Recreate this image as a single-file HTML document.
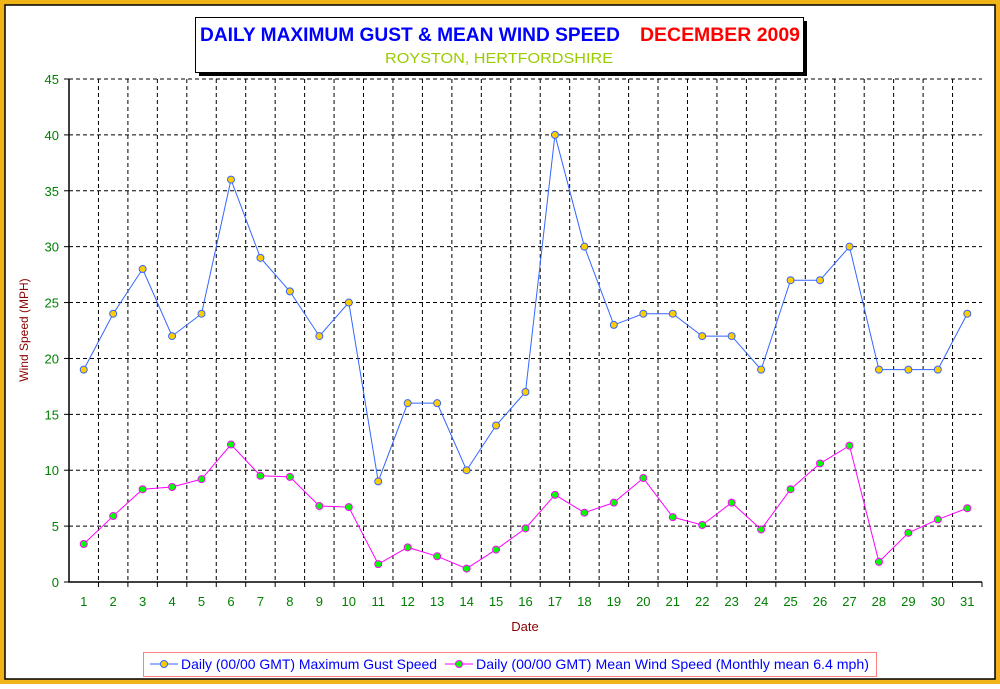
<!DOCTYPE html>
<html><head><meta charset="utf-8"><style>
body{margin:0;background:#fff;}
svg text{font-family:"Liberation Sans",sans-serif;}
</style></head><body>
<svg width="1000" height="684" xmlns="http://www.w3.org/2000/svg">
<rect x="0" y="0" width="1000" height="684" fill="#F0B418"/>
<rect x="5" y="5" width="990" height="674" fill="#fff" stroke="#000" stroke-width="1.5"/>
<rect x="199" y="21" width="608" height="55" fill="#000"/>
<rect x="195.5" y="17.5" width="608" height="55" fill="#fff" stroke="#000"/>
<text x="200" y="41" font-size="19" font-weight="bold" fill="#0000FF" textLength="420" lengthAdjust="spacingAndGlyphs">DAILY MAXIMUM GUST &amp; MEAN WIND SPEED</text>
<text x="640" y="41" font-size="19" font-weight="bold" fill="#FF0000" textLength="160" lengthAdjust="spacingAndGlyphs">DECEMBER 2009</text>
<text x="385" y="63" font-size="15" fill="#99CC00" textLength="228" lengthAdjust="spacingAndGlyphs">ROYSTON, HERTFORDSHIRE</text>
<g id="grid"></g>
<g id="axes"></g>
<g id="series"></g>
<text x="28" y="330" font-size="12" fill="#8B0000" text-anchor="middle" transform="rotate(-90 28 330)">Wind Speed (MPH)</text>
<text x="525" y="631" font-size="13" fill="#8B0000" text-anchor="middle">Date</text>
<g>
<rect x="143.5" y="652.5" width="733" height="24" fill="#fff" stroke="#FF8080"/>
<line x1="150" y1="664" x2="178" y2="664" stroke="#3366FF"/>
<circle cx="164" cy="664" r="3.5" fill="#FFCC00" stroke="#3366FF"/>
<text x="181" y="669" font-size="14" fill="#0000FF" textLength="256" lengthAdjust="spacingAndGlyphs">Daily (00/00 GMT) Maximum Gust Speed</text>
<line x1="445" y1="664" x2="473" y2="664" stroke="#FF00FF"/>
<circle cx="459" cy="664" r="3.5" fill="#00FF00" stroke="#FF00FF"/>
<text x="476" y="669" font-size="14" fill="#0000FF" textLength="393" lengthAdjust="spacingAndGlyphs">Daily (00/00 GMT) Mean Wind Speed (Monthly mean 6.4 mph)</text>
</g>
</svg>
<script>
const days=[1,2,3,4,5,6,7,8,9,10,11,12,13,14,15,16,17,18,19,20,21,22,23,24,25,26,27,28,29,30,31];
const gust=[19,24,28,22,24,36,29,26,22,25,9,16,16,10,14,17,40,30,23,24,24,22,22,19,27,27,30,19,19,19,24];
const mean=[3.4,5.9,8.3,8.5,9.2,12.3,9.5,9.4,6.8,6.7,1.6,3.1,2.3,1.2,2.9,4.8,7.8,6.2,7.1,9.3,5.8,5.1,7.1,4.7,8.3,10.6,12.2,1.8,4.4,5.6,6.6];
const yTicks=[0,5,10,15,20,25,30,35,40,45];
const NS="http://www.w3.org/2000/svg";
const L=69,R=982,T=79,B=582,YMAX=45;
const bw=(R-L)/days.length;
const xs=i=>L+bw*(i+0.5);
const ys=v=>B-(v/YMAX)*(B-T);
function mk(p,tag,at){const e=document.createElementNS(NS,tag);for(const k in at)e.setAttribute(k,at[k]);p.appendChild(e);return e;}
const grid=document.getElementById('grid'),axes=document.getElementById('axes'),ser=document.getElementById('series');
yTicks.forEach(t=>{const y=ys(t);
 if(t>0){const g=mk(grid,'line',{x1:L,x2:R,y1:y,y2:y,stroke:'#000','stroke-dasharray':'4,3'});
 
 }
 const tk=mk(axes,'line',{x1:L-5,x2:L,y1:y,y2:y,stroke:'#000'});
 
 
 const tx=mk(axes,'text',{x:L-10,y:y+5,'font-size':13,fill:'#008000','text-anchor':'end'});tx.textContent=t;
 
 
});
days.forEach((d,i)=>{const xb=L+bw*(i+1);
 if(i<days.length-1){const g=mk(grid,'line',{x1:xb,x2:xb,y1:T,y2:B,stroke:'#000','stroke-dasharray':'4,3'});
 
 }
 const tk=mk(axes,'line',{x1:xb,x2:xb,y1:B,y2:B+5,stroke:'#000'});
 
 
 const tx=mk(axes,'text',{x:xs(i),y:B+24,'font-size':13,fill:'#008000','text-anchor':'middle'});tx.textContent=d;
 
 
});
const ax=mk(axes,'path',{d:`M${L},${T}V${B}H${R}`,fill:'none',stroke:'#000','stroke-width':1.5});


function series(vals,lc,fc,name){
 const p=mk(ser,'polyline',{points:vals.map((v,i)=>xs(i)+','+ys(v)).join(' '),fill:'none',stroke:lc,'stroke-width':1});
 
 
 vals.forEach((v,i)=>{const c=mk(ser,'circle',{cx:xs(i),cy:ys(v),r:3.5,fill:fc,stroke:lc});
 
 });
}
series(gust,'#3366FF','#FFCC00','gust');
series(mean,'#FF00FF','#00FF00','mean');
</script>
</body></html>
